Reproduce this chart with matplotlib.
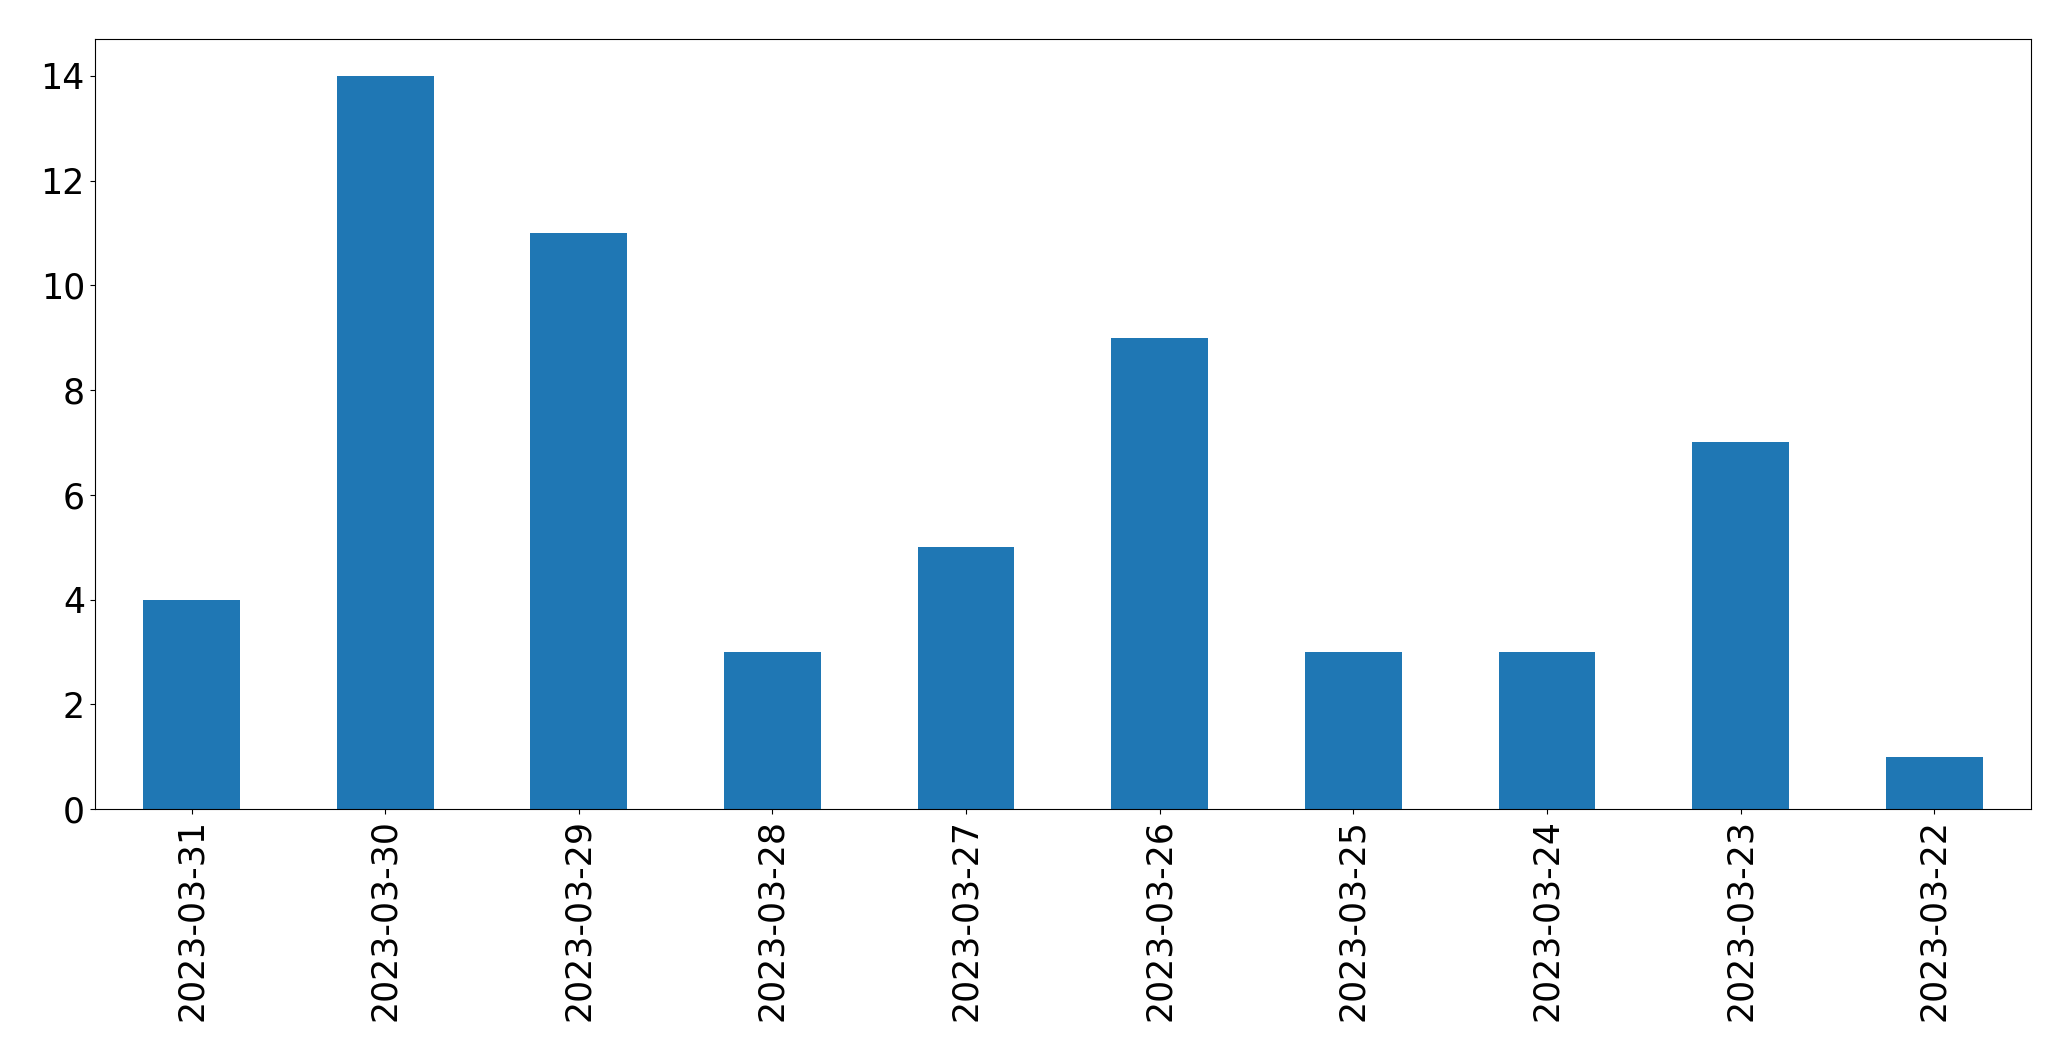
import matplotlib.pyplot as plt

dates = ['2023-03-31', '2023-03-30', '2023-03-29', '2023-03-28', '2023-03-27',
         '2023-03-26', '2023-03-25', '2023-03-24', '2023-03-23', '2023-03-22']
counts = [4, 14, 11, 3, 5, 9, 3, 3, 7, 1]

fig = plt.figure(figsize=(20.71, 10.61), dpi=100)
ax = fig.add_axes([94.7 / 2071, 1 - 809 / 1061, (2031 - 94.7) / 2071, (809 - 39.3) / 1061])

x = range(len(dates))
ax.bar(x, counts, width=0.5, color='#1f77b4')
ax.set_xlim(-0.5, len(dates) - 0.5)
ax.set_ylim(0, max(counts) * 1.05)
ax.set_xticks(list(x))
ax.set_xticklabels(dates, rotation=90)
ax.tick_params(labelsize=25)

fig.savefig('out.png', dpi=100)
